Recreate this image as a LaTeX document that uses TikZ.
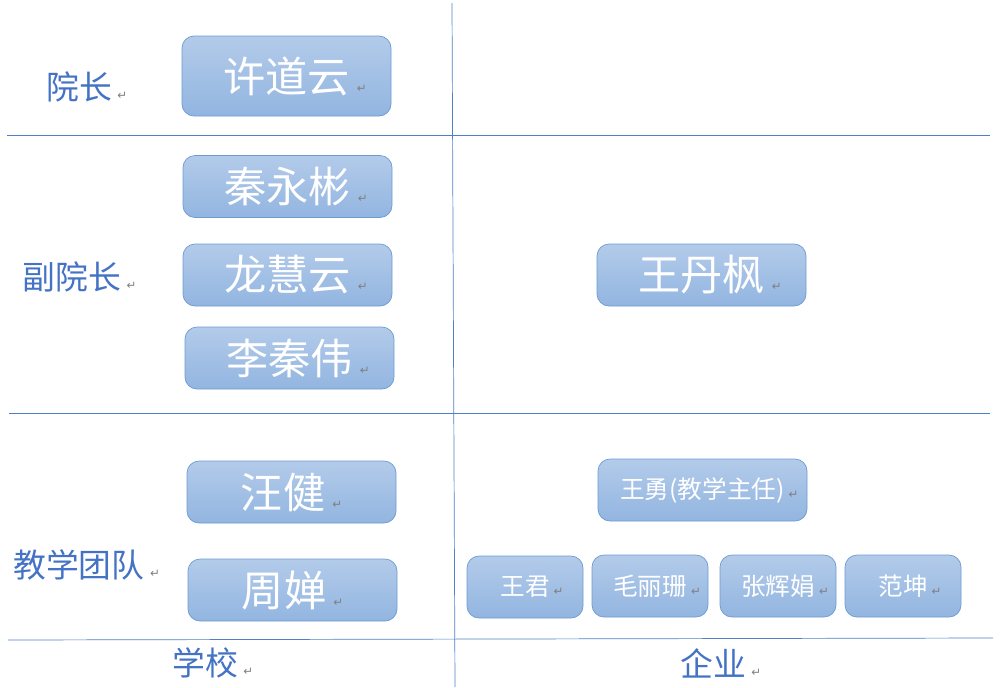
\documentclass[tikz,border=0pt]{standalone}
\usepackage{fontspec}
\usepackage{tikz}
\newfontfamily\cjk{Noto Sans CJK SC}
\newfontfamily\symfont{DejaVu Sans}
\definecolor{boxtop}{HTML}{B3CBEA}
\definecolor{boxbot}{HTML}{92B5E0}
\definecolor{boxline}{HTML}{6C9BD2}
\definecolor{labelblue}{HTML}{4472C4}
\definecolor{rulecol}{HTML}{4F7FC6}
\newcommand{\retsym}{\textcolor{gray}{\symfont\fontsize{10}{10}\selectfont ↵}}
\newcommand{\retmark}{\rlap{\,\retsym}}
\newcommand{\retwide}{\,\retsym}
\tikzset{
  rule/.style={draw=rulecol, line width=0.6pt},
  person/.style={draw=boxline, line width=0.6pt, top color=boxtop, bottom color=boxbot,
    rounded corners=3.6mm, text=white, inner sep=0pt},
  bigbox/.style={person, minimum width=62.7mm, minimum height=18.6mm,
    font=\cjk\fontsize{36}{36}\selectfont},
  smallbox/.style={person, minimum width=34.8mm, minimum height=18.6mm,
    font=\cjk\fontsize{21}{21}\selectfont},
  rowlabel/.style={text=labelblue, inner sep=0pt, font=\cjk\fontsize{28}{28}\selectfont}
}
\begin{document}
\begin{tikzpicture}[x=0.3mm, y=-0.3mm]
\useasboundingbox (0,0) rectangle (1000,687);
% grid lines
\coordinate (vtop) at (452,3);
\coordinate (vbot) at (455,687);
\coordinate (h1l) at (7,135);
\coordinate (h1r) at (990,135);
\coordinate (h2l) at (9,413);
\coordinate (h2r) at (990,413);
\coordinate (h3l) at (8,640);
\coordinate (h3r) at (993,638);
\draw[rule] (vtop) -- (vbot);
\draw[rule] (h1l) -- (h1r);
\draw[rule] (h2l) -- (h2r);
\draw[rule] (h3l) -- (h3r);
% row labels
\node[rowlabel] (dean) at (79,87) {院长\retmark};
\node[rowlabel] (vicedean) at (72,277) {副院长\retmark};
\node[rowlabel] (team) at (79,565) {教学团队\retmark};
\node[rowlabel] (school) at (205,663) {学校\retmark};
\node[rowlabel] (company) at (713,663) {企业\retmark};
% school side
\node[bigbox, minimum height=24mm] (xu) at (286.5,76) {许道云\retmark};
\node[bigbox] (qin) at (287.5,186.5) {秦永彬\retmark};
\node[bigbox] (long) at (287.5,275) {龙慧云\retmark};
\node[bigbox] (li) at (289.5,358) {李秦伟\retmark};
\node[bigbox] (wangj) at (291.5,492) {汪健\retwide};
\node[bigbox] (zhou) at (292.5,590) {周婵\retwide};
% company side
\node[bigbox] (wangdf) at (701.5,275) {王丹枫\retmark};
\node[bigbox, font=\cjk\fontsize{21}{21}\selectfont] (wangy) at (702.5,490) {王勇(教学主任)\retmark};
\node[smallbox] (wangjun) at (525,587) {王君\retmark};
\node[smallbox] (mao) at (650,586) {毛丽珊\retmark};
\node[smallbox] (zhang) at (778,586) {张辉娟\retmark};
\node[smallbox] (fan) at (903,586) {范坤\retmark};
\end{tikzpicture}
\end{document}
